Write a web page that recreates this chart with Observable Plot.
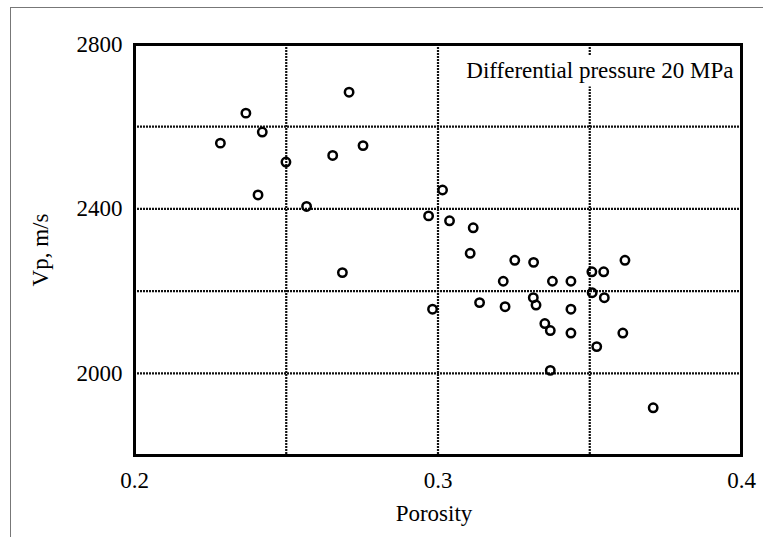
<!DOCTYPE html>
<html>
<head>
<meta charset="utf-8">
<script src="https://cdn.jsdelivr.net/npm/d3@7"></script>
<script src="https://cdn.jsdelivr.net/npm/@observablehq/plot@0.6"></script>
<style>
  html, body { margin: 0; padding: 0; background: #fff; }
  #wrap { position: relative; width: 763px; height: 537px; overflow: hidden; }
  #border { position: absolute; left: 10px; top: 7px; width: 800px; height: 600px;
            border-left: 1.5px solid #777; border-top: 1.5px solid #777; pointer-events: none; }
</style>
</head>
<body>
<div id="wrap"><div id="border"></div></div>
<script>
// Data
const porosity = [
  0.2283, 0.2367, 0.2421, 0.2407, 0.2499, 0.2567, 0.2653, 0.2707, 0.2753, 0.2685,
  0.2969, 0.2982, 0.3015, 0.3038, 0.3116, 0.3106, 0.3137, 0.3215, 0.3221, 0.3253,
  0.3315, 0.3314, 0.3323, 0.3352, 0.3370, 0.3370, 0.3377, 0.3438, 0.3438, 0.3438,
  0.3507, 0.3546, 0.3508, 0.3548, 0.3523, 0.3616, 0.3609, 0.3709
];
const vp = [
  2560, 2633, 2587, 2434, 2514, 2406, 2530, 2684, 2554, 2245,
  2383, 2156, 2446, 2371, 2354, 2292, 2172, 2224, 2162, 2275,
  2270, 2184, 2166, 2121, 2104, 2007, 2224, 2224, 2156, 2098,
  2247, 2247, 2196, 2184, 2065, 2275, 2098, 1916
];
const xTickLabels = [0.2, 0.3, 0.4];
const yTickLabels = [2000, 2400, 2800];
const xGrid = [0.25, 0.3, 0.35];
const yGrid = [2000, 2200, 2400, 2600];
const xLabel = "Porosity";
const yLabel = "Vp, m/s";
const legendText = "Differential pressure 20 MPa";

const data = porosity.map((p, i) => ({porosity: p, vp: vp[i]}));

const FONT = "Liberation Serif, DejaVu Serif, serif";

const chart = Plot.plot({
  width: 763,
  height: 537,
  marginLeft: 134,
  marginRight: 22,
  marginTop: 44,
  marginBottom: 82,
  style: {background: "white", color: "black"},
  x: {domain: [0.2, 0.4]},
  y: {domain: [1800, 2800]},
  marks: [
    Plot.gridX(xGrid, {stroke: "#111", strokeOpacity: 1, strokeWidth: 2.2, strokeDasharray: "2,1"}),
    Plot.gridY(yGrid, {stroke: "#111", strokeOpacity: 1, strokeWidth: 2.2, strokeDasharray: "2,1"}),
    Plot.axisX(xTickLabels, {tickSize: 0, tickPadding: 16, tickFormat: d => String(d), label: null, fontSize: 23, fontFamily: FONT}),
    Plot.axisY(yTickLabels, {tickSize: 0, tickPadding: 12, tickFormat: d => String(d), label: null, fontSize: 23, fontFamily: FONT}),
    Plot.frame({stroke: "black", strokeWidth: 3}),
    Plot.dot(data, {x: "porosity", y: "vp", r: 4.2, stroke: "black", strokeWidth: 2.5, fill: "none"}),
    Plot.text([xLabel], {text: d => d, frameAnchor: "bottom", lineAnchor: "bottom", dy: 65, dx: -4, fontSize: 23, fontFamily: FONT, fill: "black"}),
    Plot.text([yLabel], {text: d => d, frameAnchor: "left", rotate: -90, lineAnchor: "bottom", textAnchor: "middle", dx: -87, fontSize: 23, fontFamily: FONT, fill: "black"}),
    Plot.text([legendText], {text: d => d, frameAnchor: "top-right", textAnchor: "end", lineAnchor: "bottom", dx: -8, dy: 33, fontSize: 23, fontFamily: FONT, fill: "black", className: "legend-text"})
  ]
});

chart.setAttribute("font-family", FONT);
chart.querySelectorAll("text, g").forEach(el => {
  if (el.tagName === "text") el.style.fontFamily = FONT;
});

document.getElementById("wrap").insertBefore(chart, document.getElementById("border"));

// white box behind the legend text, sized from the text's own bounding box
const lg = chart.querySelector("g.legend-text text");
if (lg) {
  const r = lg.getBoundingClientRect();
  const sr = chart.getBoundingClientRect();
  const x0 = r.left - sr.left, y0 = r.top - sr.top;
  const rect = document.createElementNS("http://www.w3.org/2000/svg", "rect");
  rect.setAttribute("x", x0 - 10);
  rect.setAttribute("y", y0 - 2);
  rect.setAttribute("width", (763 - 22 - 1.5) - (x0 - 10));
  rect.setAttribute("height", r.height + 6);
  rect.setAttribute("fill", "white");
  const g = lg.parentNode;
  g.parentNode.insertBefore(rect, g);
}
</script>
</body>
</html>
